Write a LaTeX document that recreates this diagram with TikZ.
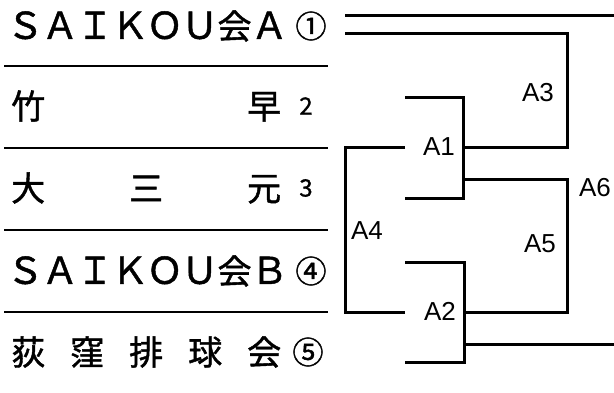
\documentclass[tikz,border=0pt]{standalone}
\usepackage{fontspec}
\setmainfont{Noto Sans CJK JP}[FakeBold=1.2]
\newfontfamily\etiq{Liberation Sans}
\newcommand{\reparte}[1]{\makebox[270pt][s]{#1}}
\newcommand{\letra}[1]{\makebox[34.9pt]{\fontsize{37}{40}\selectfont #1}}
\newcommand{\kanji}[1]{\makebox[34.9pt]{#1}}
\tikzset{
  equipo/.style={anchor=west,inner sep=0pt,font=\fontsize{34}{38}\selectfont},
  numero/.style={inner sep=0pt,font=\fontsize{31}{36}\selectfont},
  numchico/.style={inner sep=0pt,font=\fontsize{24}{28}\selectfont},
  partido/.style={inner sep=0pt,font=\etiq\fontsize{26}{30}\selectfont},
  raya/.style={line width=1.6pt},
  llave/.style={line width=3pt},
}
\begin{document}
\begin{tikzpicture}[x=1pt,y=-1pt]
\useasboundingbox (0,0) rectangle (614,392);
%
% equipos
\node[equipo] (e1) at (7.5,26) {\letra{Ｓ}\letra{Ａ}\letra{Ｉ}\letra{Ｋ}\letra{Ｏ}\letra{Ｕ}\kanji{会}\letra{Ａ}};
\node[equipo] (e2) at (11,106) {\reparte{竹\hfill 早}};
\node[equipo] (e3) at (11,188) {\reparte{大\hfill 三\hfill 元}};
\node[equipo] (e4) at (7.5,271) {\letra{Ｓ}\letra{Ａ}\letra{Ｉ}\letra{Ｋ}\letra{Ｏ}\letra{Ｕ}\kanji{会}\letra{Ｂ}};
\node[equipo] (e5) at (11,352) {\reparte{荻\hfill 窪\hfill 排\hfill 球\hfill 会}};
\node[numero] (n1) at (311,26) {①};
\node[numchico] (n2) at (306,106) {2};
\node[numchico] (n3) at (306,188) {3};
\node[numero] (n4) at (311,271) {④};
\node[numero] (n5) at (308,352) {⑤};
%
% rayas entre equipos
\draw[raya] (4,66) -- (328,66);
\draw[raya] (4,148) -- (328,148);
\draw[raya] (4,230) -- (328,230);
\draw[raya] (4,312) -- (328,312);
%
% partidos
\node[partido] (a1) at (439,147) {A1};
\node[partido] (a2) at (440,311) {A2};
\node[partido] (a3) at (538,93) {A3};
\node[partido] (a4) at (367,231) {A4};
\node[partido] (a5) at (540,244) {A5};
\node[partido] (a6) at (595,188) {A6};
%
% puntos de la llave
\coordinate (s1) at (345,15);  \coordinate (f1) at (614,15);
\coordinate (s2) at (345,33);  \coordinate (c3) at (567,33);
\coordinate (u1) at (405,97);  \coordinate (v1) at (463,97);
\coordinate (w1) at (463,198); \coordinate (d1) at (405,198);
\coordinate (g1) at (463,147); \coordinate (h3) at (567,147);
\coordinate (g5) at (463,179); \coordinate (c5) at (567,179);
\coordinate (l1) at (405,147); \coordinate (k4) at (345,147);
\coordinate (k5) at (345,312); \coordinate (l2) at (405,312);
\coordinate (u2) at (405,262); \coordinate (v2) at (464,262);
\coordinate (w2) at (464,362); \coordinate (d2) at (405,362);
\coordinate (g2) at (464,312); \coordinate (h5) at (567,312);
\coordinate (g6) at (464,344); \coordinate (f6) at (614,344);
%
\draw[llave] (s1) -- (f1);
\draw[llave] (s2) -- (c3) -- (h3) -- (g1);
\draw[llave] (u1) -- (v1) -- (w1) -- (d1);
\draw[llave] (g5) -- (c5) -- (h5) -- (g2);
\draw[llave] (u2) -- (v2) -- (w2) -- (d2);
\draw[llave] (l1) -- (k4) -- (k5) -- (l2);
\draw[llave] (g6) -- (f6);
%
\end{tikzpicture}
\end{document}
